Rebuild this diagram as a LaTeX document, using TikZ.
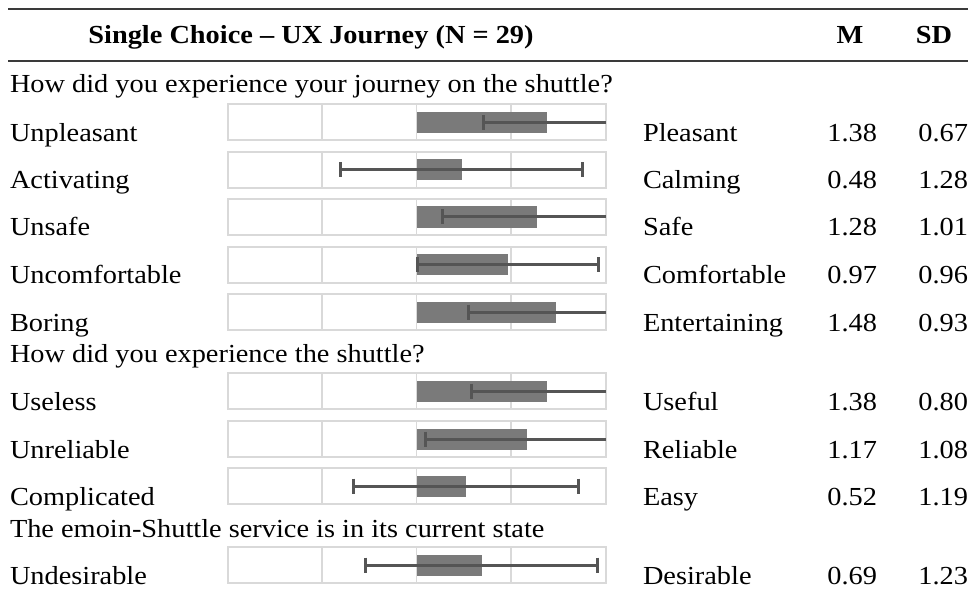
\documentclass[tikz,border=0pt]{standalone}
\usepackage{fontspec}
\setmainfont[FakeStretch=1.09]{Liberation Serif}
\definecolor{boxgray}{HTML}{D9D9D9}
\definecolor{bargray}{HTML}{7A7A7A}
\definecolor{errgray}{HTML}{555555}
\definecolor{rulegray}{HTML}{3A3A3A}
\tikzset{
  boxst/.style={draw=boxgray, line width=2pt, fill=white},
  gridst/.style={draw=boxgray, line width=1.8pt},
  barst/.style={fill=bargray},
  errst/.style={draw=errgray, line width=3pt},
  rulest/.style={draw=rulegray, line width=1.6pt},
  txt/.style={inner sep=0pt, outer sep=0pt, text=black, font=\fontsize{26}{30}\selectfont},
}
\newcommand{\plotrow}[3]{%
  \pgfmathsetmacro{\elo}{max(-2,#2-#3)}%
  \pgfmathsetmacro{\ehi}{min(2,#2+#3)}%
  \pgfmathsetmacro{\eyc}{#1+18}%
  \draw[boxst] (227.5,#1) rectangle (605.5,#1+36);
  \foreach \gx in {322,416.5,511} \draw[gridst] (\gx,#1+1) -- (\gx,#1+35);
  \fill[barst] (416.5,#1+7.5) rectangle ({416.5+94.5*#2},#1+28.5);
  \draw[errst] ({416.5+94.5*\elo},\eyc) -- ({416.5+94.5*\ehi},\eyc);
  \pgfmathparse{(#2-#3)>-2 ? 1 : 0}%
  \ifdim\pgfmathresult pt>0.5pt
    \draw[errst] ({416.5+94.5*\elo},\eyc-7.5) -- ({416.5+94.5*\elo},\eyc+7.5);
  \fi
  \pgfmathparse{(#2+#3)<2 ? 1 : 0}%
  \ifdim\pgfmathresult pt>0.5pt
    \draw[errst] ({416.5+94.5*\ehi},\eyc-7.5) -- ({416.5+94.5*\ehi},\eyc+7.5);
  \fi
}
\begin{document}
\begin{tikzpicture}[x=1pt, y=-1pt]
  \useasboundingbox (0,0) rectangle (970,599);
  % rules
  \coordinate (r1a) at (8,9);   \coordinate (r1b) at (968,9);
  \coordinate (r2a) at (8,61);  \coordinate (r2b) at (968,61);
  \draw[rulest] (r1a) -- (r1b);
  \draw[rulest] (r2a) -- (r2b);
  % header
  \node[txt, anchor=base] (head) at (311,44) {\bfseries Single Choice – UX Journey (N = 29)};
  \node[txt, anchor=base] (headM) at (850,44) {\bfseries M};
  \node[txt, anchor=base] (headSD) at (934,44) {\bfseries SD};
  % questions
  \node[txt, anchor=base west] (q1) at (10,93) {How did you experience your journey on the shuttle?};
  \node[txt, anchor=base west] (q2) at (10,362) {How did you experience the shuttle?};
  \node[txt, anchor=base west] (q3) at (10,537) {The emoin-Shuttle service is in its current state};
  % rows
  \foreach \t/\l/\r/\m/\s [count=\i] in {
      104.5/Unpleasant/Pleasant/1.38/0.67,
      152/Activating/Calming/0.48/1.28,
      199/Unsafe/Safe/1.28/1.01,
      246.5/Uncomfortable/Comfortable/0.97/0.96,
      294/Boring/Entertaining/1.48/0.93,
      373/Useless/Useful/1.38/0.80,
      421/Unreliable/Reliable/1.17/1.08,
      468/Complicated/Easy/0.52/1.19,
      547/Undesirable/Desirable/0.69/1.23}{
    \plotrow{\t}{\m}{\s}
    \node[txt, anchor=base west] (left\i) at (10,\t+37) {\l};
    \node[txt, anchor=base west] (right\i) at (643,\t+37) {\r};
    \node[txt, anchor=base east] (mean\i) at (877,\t+37) {\m};
    \node[txt, anchor=base east] (sd\i) at (968,\t+37) {\s};
  }
\end{tikzpicture}
\end{document}
